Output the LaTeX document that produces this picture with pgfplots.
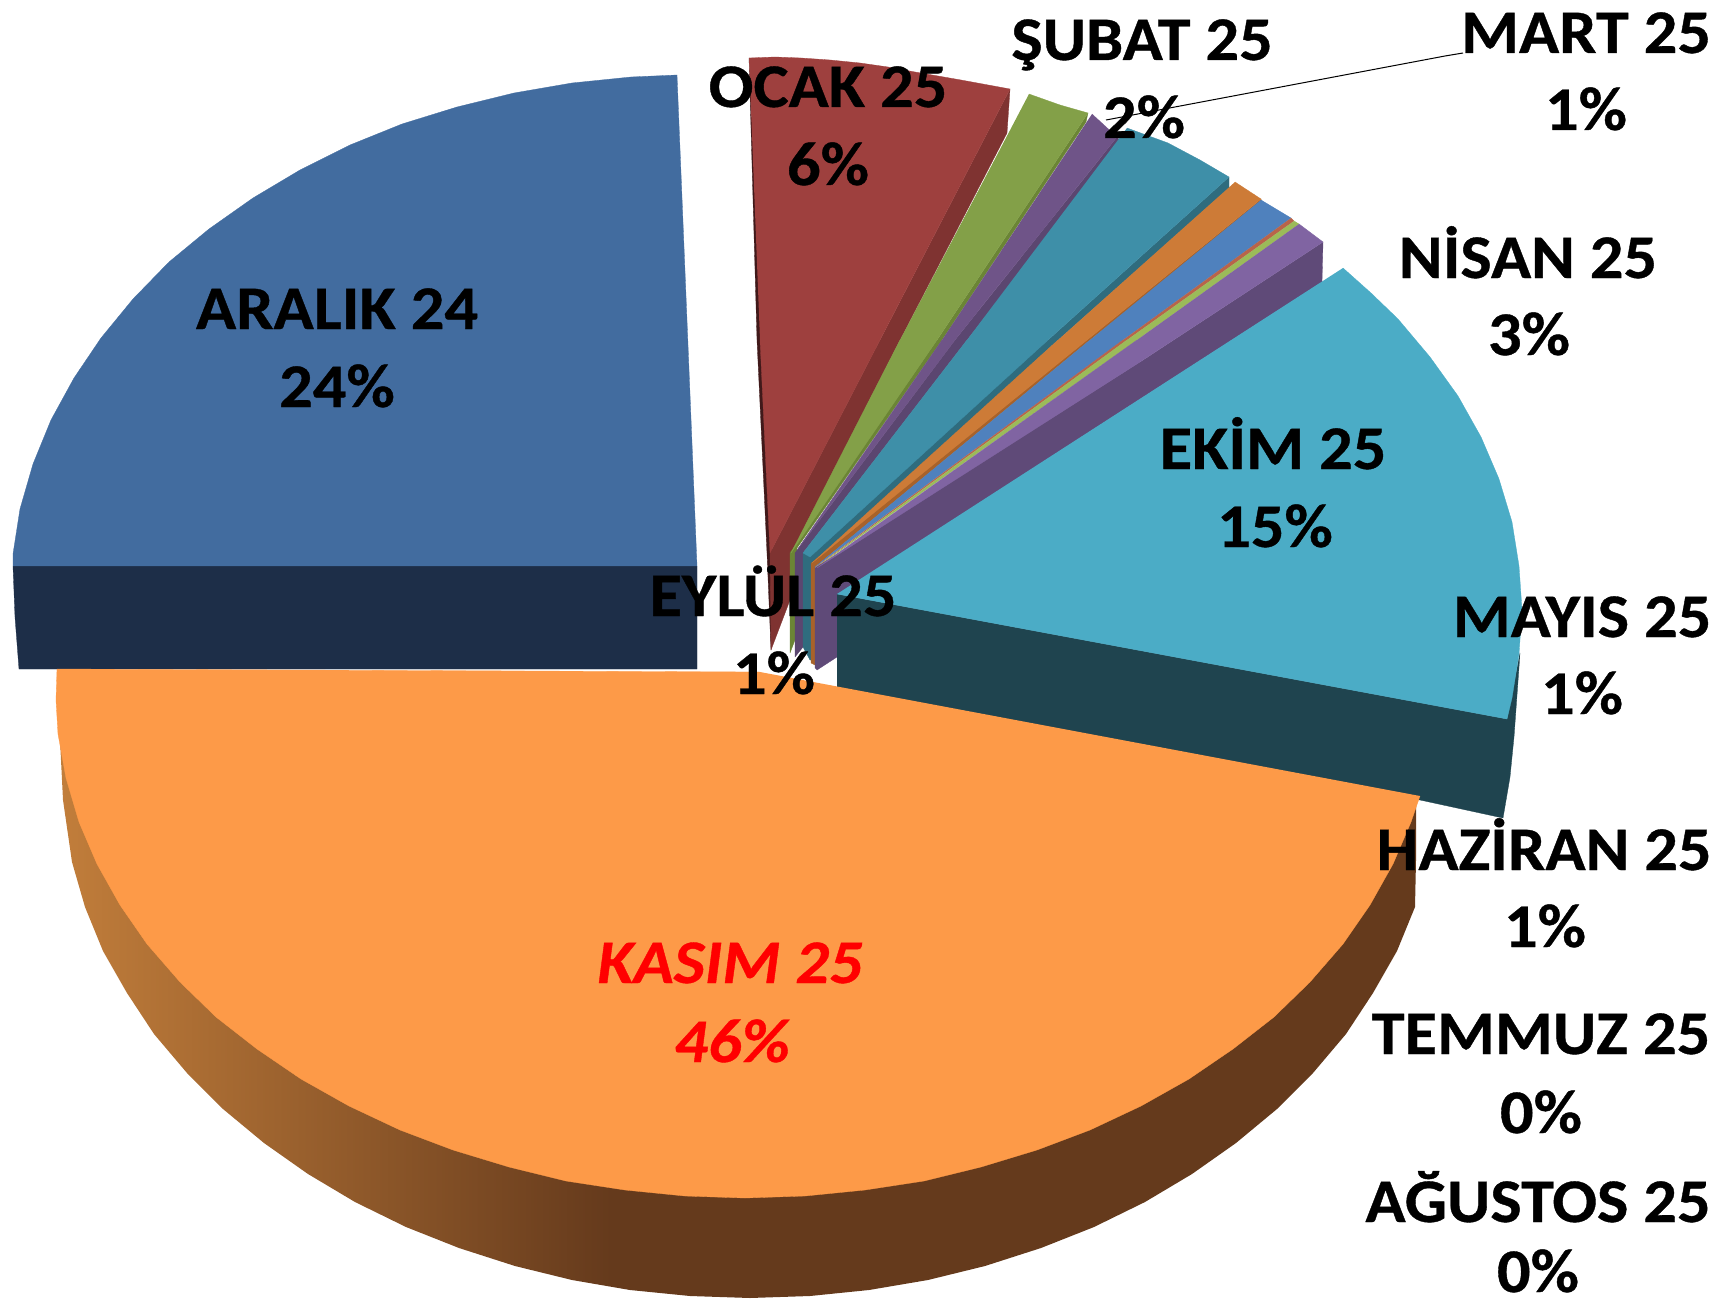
\documentclass[border=0pt]{standalone}
\usepackage{pgfplots}
\usepackage{fontspec}
\setmainfont{Carlito}[BoldFeatures={FakeStretch=1.07,FakeBold=0.6},BoldItalicFeatures={FakeStretch=1.07,FakeBold=0.6}]
\pgfplotsset{compat=1.18}
\definecolor{cOrange}{HTML}{FD9A48}
\definecolor{cSideA}{HTML}{C27E3B}
\definecolor{cSideB}{HTML}{653A1C}
\definecolor{cNavy}{HTML}{426C9F}
\definecolor{cNavyS}{HTML}{1D2E48}
\definecolor{cRed}{HTML}{9E403E}
\definecolor{cRedS}{HTML}{7F3331}
\definecolor{cRedD}{HTML}{40191A}
\definecolor{cGreen}{HTML}{83A048}
\definecolor{cGreenS}{HTML}{6B8535}
\definecolor{cPurp}{HTML}{6F5488}
\definecolor{cPurpS}{HTML}{5B4670}
\definecolor{cTeal}{HTML}{3E8FA8}
\definecolor{cTealS}{HTML}{2F6C7E}
\definecolor{cOr}{HTML}{CD7B37}
\definecolor{cOrS}{HTML}{A8622A}
\definecolor{cBlue}{HTML}{4F81BD}
\definecolor{cThinR}{HTML}{B8644A}
\definecolor{cThinG}{HTML}{9BBB59}
\definecolor{cPale}{HTML}{8064A2}
\definecolor{cPaleS}{HTML}{5F4A78}
\definecolor{cSky}{HTML}{4BACC6}
\definecolor{cSkyS}{HTML}{1F444F}
\pgfdeclarehorizontalshading{oside}{100bp}{color(0bp)=(cSideA); color(25bp)=(cSideA); color(45.4bp)=(cSideB); color(100bp)=(cSideB)}
\newcommand{\poly}[2]{\addplot[draw=#1,fill=#1,line width=0.3pt,line join=round] coordinates {#2};}
\newcommand{\lab}[3]{\node[overlay,anchor=base,inner sep=0pt] at (axis cs:#1,#2) {\fontsize{62}{70}\selectfont\bfseries #3};}
\newcommand{\labi}[3]{\node[overlay,anchor=base,inner sep=0pt,text=red] at (axis cs:#1,#2) {\fontsize{62}{70}\selectfont\bfseries\itshape #3};}
\begin{document}
\begin{tikzpicture}
\begin{axis}[scale only axis,width=1719pt,height=1300pt,xmin=0,xmax=1719,ymin=0,ymax=1300,y dir=reverse,hide axis,clip=false]
\addplot[draw=none] coordinates {(0,0)(1719,1300)};
% ARALIK 24
\poly{cNavyS}{(13,566)(15,617)(19,669)(697,669)(697,566)}
\poly{cNavy}{(13,566)(13,554)(20,509)(33,464)(51,420)(74,378)(101,338)(133,299)(169,262)(209,229)(253,198)(300,170)(350,145)(402,124)(457,107)(514,93)(572,83)(631,77)(677,75)(697,566)}
% OCAK 25
\poly{cRedD}{(749,58)(757,340)(767,553)(771,650)(772,553)(762,340)}
\poly{cRedS}{(1010,89)(1007,133)(900,340)(792,553)(790,600)(771,650)(770,553)(880,340)}
\poly{cRed}{(749,58)(775,57)(801,58)(830,60)(860,63)(888,67)(915,72)(961,80)(1010,89)(880,340)(770,553)(760,340)}
% SUBAT 25
\poly{cGreenS}{(1088,113)(1086,122)(942,340)(797,548)(795,640)(790,653)(790,553)(792,550)(937,340)}
\poly{cGreen}{(1029,94)(1060,105)(1088,113)(937,340)(791,553)(900,340)}
% MART 25
\poly{cPurpS}{(1117,137)(1121,142)(967,340)(803,553)(803,647)(795,657)(795,553)(955,340)}
\poly{cPurp}{(1092,114)(1117,137)(955,340)(797,550)(942,340)}
% NISAN 25
\poly{cTealS}{(1229,177)(1229,188)(1058,340)(815,563)(815,660)(810,660)(803,647)(803,553)(1048,340)}
\poly{cTeal}{(1127,128)(1168,143)(1200,160)(1229,177)(1048,340)(810,557)(803,553)(967,340)}
% MAYIS 25
\poly{cOrS}{(1261,199)(1262,204)(1090,340)(815,567)(815,665)(811,663)(811,563)}
\poly{cOr}{(1235,182)(1261,199)(1087,340)(812,563)(1058,340)}
% HAZIRAN 25
\poly{cBlue}{(1261,200)(1291,218)(1123,340)(815,567)(1090,340)}
% TEMMUZ, AGUSTOS 25
\poly{cThinR}{(1291,218)(1294,221)(1127,340)(816,567)(1123,340)}
\poly{cThinG}{(1294,221)(1299,224)(1137,340)(817,567)(1127,340)}
% EYLUL 25
\poly{cPaleS}{(1323,242)(1322,282)(1120,412)(837,595)(837,657)(817,670)(815,668)(815,568)(1140,362)}
\poly{cPale}{(1299,224)(1323,242)(1140,362)(817,568)(1137,340)}
% EKIM 25
\poly{cSkyS}{(837,594)(1507,719)(1520,653)(1514,737)(1510,777)(1503,818)(1420,800)(837,687)}
\poly{cSky}{(1343,268)(1371,293)(1398,319)(1430,357)(1458,396)(1481,437)(1499,479)(1512,522)(1519,566)(1522,610)(1519,654)(1512,698)(1507,719)(837,594)}
% KASIM 25
\addplot[draw=none,shading=oside] coordinates {(57,669)(59,720)(63,800)(72,862)(85,907)(103,951)(127,993)(154,1034)(187,1073)(223,1109)(264,1143)(308,1174)(355,1202)(406,1227)(459,1248)(515,1266)(572,1280)(630,1290)(690,1296)(750,1298)(810,1296)(869,1290)(928,1280)(985,1266)(1041,1248)(1094,1227)(1145,1202)(1192,1174)(1236,1143)(1277,1109)(1313,1073)(1346,1034)(1373,993)(1397,951)(1415,907)(1416,860)(1416,800)};
\poly{cOrange}{(1420,796)(1411,822)(1393,864)(1370,905)(1343,944)(1310,982)(1274,1017)(1233,1049)(1189,1079)(1141,1106)(1090,1130)(1037,1150)(981,1167)(924,1181)(865,1190)(805,1196)(745,1198)(685,1196)(625,1190)(566,1181)(509,1167)(453,1150)(400,1130)(349,1106)(301,1079)(257,1049)(216,1017)(180,982)(147,944)(120,905)(97,864)(79,822)(66,778)(58,734)(56,700)(57,669)(760,672)}
% leader
\addplot[black,line width=1pt] coordinates {(1463,53)(1445,56)(1106,120)};
% labels
\lab{337}{329}{ARALIK 24}
\lab{337}{407}{24\%}
\lab{828}{107}{OCAK 25}
\lab{828}{185}{6\%}
\lab{1142}{60}{ŞUBAT 25}
\lab{1144}{138}{2\%}
\lab{1586}{53}{MART 25}
\lab{1586}{130}{1\%}
\lab{1528}{278}{NİSAN 25}
\lab{1529}{355}{3\%}
\lab{1273}{469}{EKİM 25}
\lab{1275}{547}{15\%}
\lab{1582}{637}{MAYIS 25}
\lab{1582}{714}{1\%}
\lab{1544}{870}{HAZİRAN 25}
\lab{1545}{947}{1\%}
\lab{1541}{1054}{TEMMUZ 25}
\lab{1541}{1133}{0\%}
\lab{1538}{1222}{AĞUSTOS 25}
\lab{1538}{1292}{0\%}
\lab{773}{616}{EYLÜL 25}
\lab{774}{694}{1\%}
\labi{730}{983}{KASIM 25}
\labi{732}{1062}{46\%}
\end{axis}
\end{tikzpicture}
\end{document}
